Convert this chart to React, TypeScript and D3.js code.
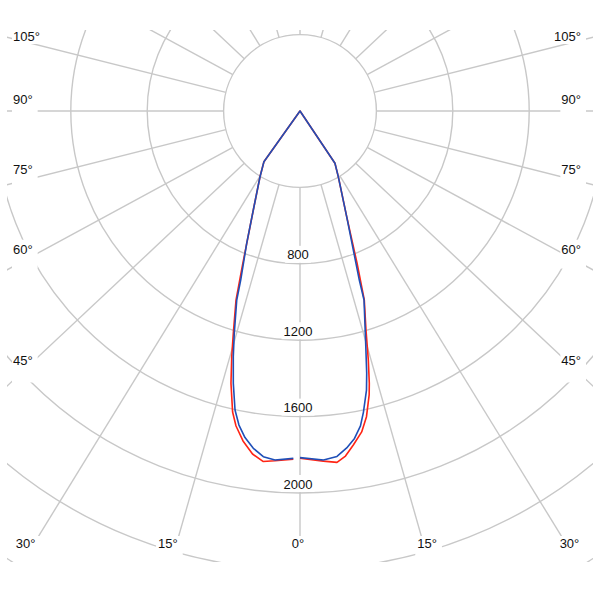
import React from "react";
import * as d3 from "d3";

// ---- data (angles in degrees from nadir, values in cd) ----
const ringValues = [400, 800, 1200, 1600, 2000, 2400, 2800];
const radialLabels = [800, 1200, 1600, 2000];
const spokeAngles = [0, 15, 30, 45, 60, 75, 90, 105, 120, 135, 150, 165, 180];
const sideLabelAngles = [45, 60, 75, 90, 105];
const bottomLabelAngles = [0, 15, 30];

const blueLeftAngles = [1.1, 4.1, 6.06, 7.88, 9.56, 11.0, 12.26, 13.76, 15.19, 16.47, 18.5, 19.33, 21.94, 25.25, 31.3, 35.4, 40];
const blueLeftValues = [1819, 1832, 1820, 1783, 1734, 1675, 1602, 1468, 1333, 1214, 1044, 938, 747, 573, 403, 326, 0];
const blueRightAngles = [0, 3.85, 6.11, 7.89, 9.45, 10.87, 11.9, 13.4, 14.28, 15.81, 18.71, 19.33, 23.83, 30.24, 33.8, 40];
const blueRightValues = [1815, 1831, 1819, 1781, 1738, 1679, 1611, 1502, 1416, 1262, 1045, 938, 605, 398, 329, 0];

const redLeftAngles = [1.1, 4.09, 6.03, 7.88, 9.8, 11.48, 12.62, 14.22, 15.53, 16.7, 18.7, 20.47, 25.25, 31.3, 35.4, 40];
const redLeftValues = [1824, 1836, 1845, 1813, 1753, 1683, 1615, 1471, 1335, 1215, 1045, 861, 573, 403, 326, 0];
const redRightAngles = [0, 3.81, 6.01, 7.51, 9.07, 10.88, 12.27, 13.69, 14.28, 15.34, 16.77, 18.79, 20.56, 23.83, 30.24, 33.8, 40];
const redRightValues = [1818, 1837, 1850, 1822, 1771, 1711, 1638, 1530, 1471, 1352, 1197, 1045, 850, 605, 398, 329, 0];

// ---- layout ----
const W = 600, H = 600;
const cx = 300, cy = 111;
const clip = { x0: 7, x1: 593, y0: 30, y1: 562 };
const K = 1.065; // horizontal stretch of spokes in the original
const GRID = "#c8c8c8";
const FONT = "'Liberation Sans', Arial, sans-serif";
const FS = 13;

const rScale = d3.scaleLinear().domain([0, 400]).range([0, 76.4]);
const rad = (d: number) => (d * Math.PI) / 180;

function textWidth(s: string) {
  let w = 0;
  for (const ch of s) w += ch === "°" ? 0.4 * FS : 0.556 * FS;
  return w;
}

function spokeDir(theta: number, side: number) {
  const vx = side * K * Math.sin(rad(theta));
  const vy = Math.cos(rad(theta));
  const n = Math.hypot(vx, vy);
  return [vx / n, vy / n];
}

function curvePoints(la: number[], lv: number[], ra: number[], rv: number[]) {
  const pts: [number, number][] = [];
  la.forEach((a, i) => {
    const r = rScale(lv[i]);
    pts.push([cx - r * Math.sin(rad(a)), cy + r * Math.cos(rad(a))]);
  });
  for (let i = ra.length - 1; i >= 0; i--) {
    const r = rScale(rv[i]);
    pts.push([cx + r * Math.sin(rad(ra[i])), cy + r * Math.cos(rad(ra[i]))]);
  }
  return pts;
}

export default function App() {
  const line = d3.line<[number, number]>();
  const rInner = rScale(ringValues[0]);

  const spokes: JSX.Element[] = [];
  [-1, 1].forEach((side) => {
    spokeAngles.forEach((t) => {
      if (side === 1 && (t === 0 || t === 180)) return;
      const [ux, uy] = spokeDir(t, side);
      spokes.push(
        <line key={`s${side}${t}`} x1={cx + rInner * ux} y1={cy + rInner * uy} x2={cx + 900 * ux} y2={cy + 900 * uy}
          stroke={GRID} strokeWidth={1.4} />
      );
    });
  });

  const labels: JSX.Element[] = [];
  // side labels
  sideLabelAngles.forEach((t) => {
    [-1, 1].forEach((side) => {
      const txt = `${t}°`;
      const w = textWidth(txt);
      const slope = Math.cos(rad(t)) / (K * Math.sin(rad(t)));
      let yc = cy + 278 * slope - 12;
      yc = Math.max(yc, clip.y0 + 6);
      const tl = side < 0 ? 13 : 581 - w;
      const xEdge = side < 0 ? 13 : 587;
      const spY = cy + Math.abs(xEdge - cx) * slope;
      const top = yc - 10;
      const bottom = Math.max(yc + 8, spY + 2);
      labels.push(
        <g key={`sl${side}${t}`}>
          <rect x={tl - 1} y={top} width={w + 6} height={bottom - top} fill="#fff" />
          <text x={tl} y={yc + 4.7} fontFamily={FONT} fontSize={FS} fill="#111">{txt}</text>
        </g>
      );
    });
  });
  // bottom labels
  bottomLabelAngles.forEach((t) => {
    const sides = t === 0 ? [0] : [-1, 1];
    sides.forEach((side) => {
      const txt = `${t}°`;
      const w = textWidth(txt);
      const yc = 543;
      const spX = cx + side * (yc - cy) * K * Math.tan(rad(t));
      let tl: number;
      if (side === 0) tl = spX - 2 - w / 2;
      else if (side < 0) tl = spX + 1 - w;
      else tl = spX - 6;
      labels.push(
        <g key={`bl${side}${t}`}>
          <rect x={tl - 2} y={yc - 7} width={w + 7} height={clip.y1 - (yc - 7) + 2} fill="#fff" />
          <text x={tl} y={yc + 4.7} fontFamily={FONT} fontSize={FS} fill="#111">{txt}</text>
        </g>
      );
    });
  });
  // radial labels
  radialLabels.forEach((v) => {
    const yc = cy + rScale(v);
    const txt = `${v}`;
    const w = textWidth(txt);
    const xc = cx - 2;
    labels.push(
      <g key={`rl${v}`}>
        <rect x={xc - w / 2 - 2} y={yc - 18} width={w + 4} height={17} fill="#fff" />
        <text x={xc} y={yc - 4.5} textAnchor="middle" fontFamily={FONT} fontSize={FS} fill="#111">{txt}</text>
      </g>
    );
  });

  const redPts = curvePoints(redLeftAngles, redLeftValues, redRightAngles, redRightValues);
  const bluePts = curvePoints(blueLeftAngles, blueLeftValues, blueRightAngles, blueRightValues);

  return (
    <svg width={W} height={H} style={{ position: "absolute", left: 0, top: 0, background: "#fff" }}>
      <defs>
        <clipPath id="plotClip">
          <rect x={clip.x0} y={clip.y0} width={clip.x1 - clip.x0} height={clip.y1 - clip.y0} />
        </clipPath>
      </defs>
      <rect x={0} y={0} width={W} height={H} fill="#fff" />
      <g clipPath="url(#plotClip)">
        {ringValues.map((v) => (
          <circle key={v} cx={cx} cy={cy} r={rScale(v)} fill="none" stroke={GRID} strokeWidth={1.4} />
        ))}
        {spokes}
        {labels}
      </g>
      <path d={line(redPts) || ""} fill="none" stroke="#ff2414" strokeWidth={1.6} strokeLinejoin="round" />
      <path d={line(bluePts) || ""} fill="none" stroke="#1f4fb8" strokeWidth={1.6} strokeLinejoin="round" />
    </svg>
  );
}
